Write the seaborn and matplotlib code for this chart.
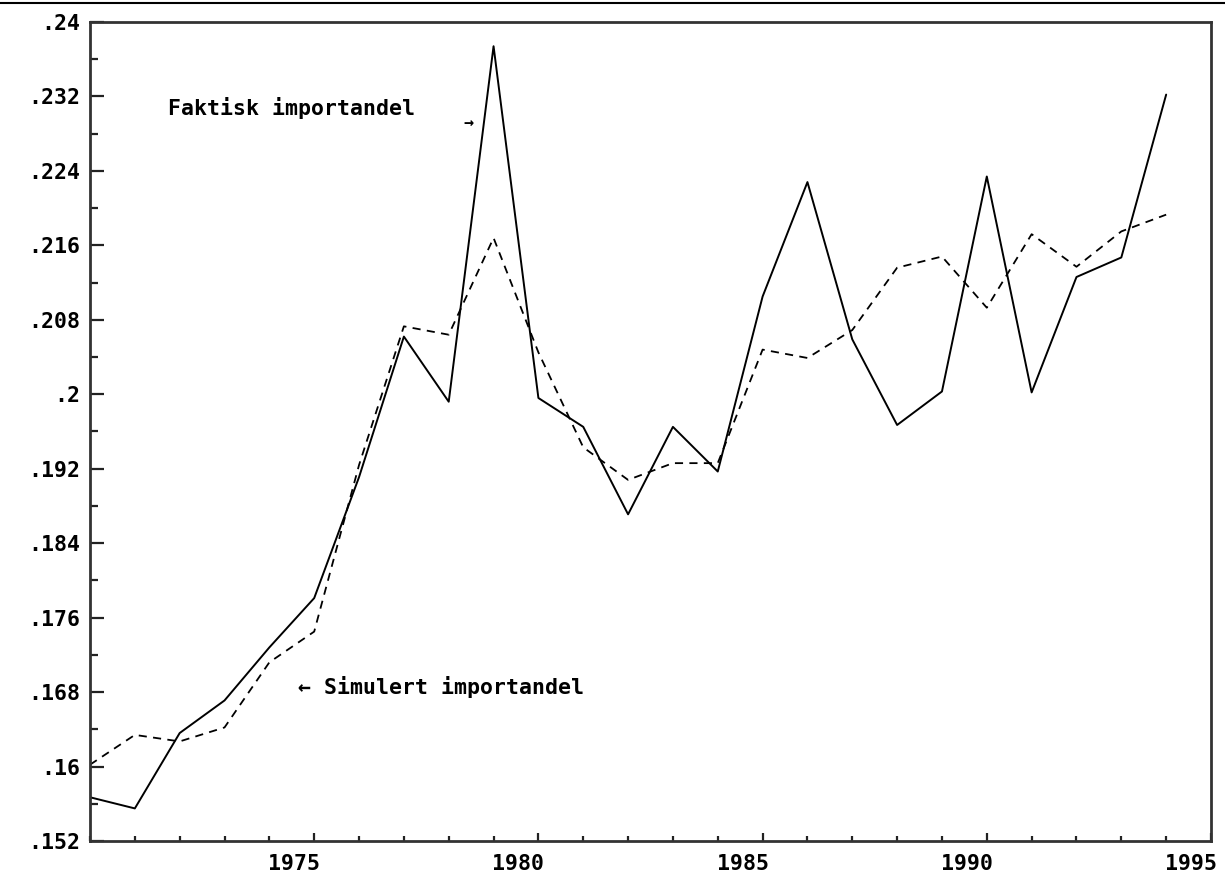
import matplotlib
matplotlib.use("Agg")
import matplotlib.pyplot as plt
import matplotlib.transforms as mtransforms
from matplotlib.lines import Line2D
from matplotlib.ticker import FixedLocator, MultipleLocator
import seaborn as sns
import pandas as pd

# ---- data ----
years = list(range(1970, 1995))
faktisk = [0.1567, 0.1555, 0.1636, 0.1671, 0.1728, 0.1781, 0.1911, 0.2062,
           0.1992, 0.2374, 0.1996, 0.1965, 0.1871, 0.1965, 0.1917, 0.2105,
           0.2228, 0.2059, 0.1967, 0.2003, 0.2234, 0.2002, 0.2126, 0.2147,
           0.2322]
simulert = [0.1602, 0.1634, 0.1627, 0.1642, 0.1712, 0.1745, 0.1924, 0.2073,
            0.2064, 0.2168, 0.2045, 0.1943, 0.1908, 0.1926, 0.1926, 0.2048,
            0.2039, 0.2069, 0.2136, 0.2148, 0.2093, 0.2172, 0.2137, 0.2175,
            0.2193]
ytick_values = [0.152, 0.160, 0.168, 0.176, 0.184, 0.192, 0.200, 0.208,
                0.216, 0.224, 0.232, 0.240]
ytick_labels = [".152", ".16", ".168", ".176", ".184", ".192", ".2", ".208",
                ".216", ".224", ".232", ".24"]
xtick_values = [1975, 1980, 1985, 1990, 1995]
xtick_labels = ["1975", "1980", "1985", "1990", "1995"]
label_faktisk = "Faktisk importandel"
label_simulert = "\u2190 Simulert importandel"
arrow_faktisk = "\u2192"

df = pd.DataFrame({"year": years, "faktisk": faktisk, "simulert": simulert})

sns.set_style("white")
plt.rcParams["font.family"] = ["DejaVu Sans Mono", "DejaVu Sans"]
plt.rcParams["font.weight"] = "bold"

FS = 15.5

fig = plt.figure(figsize=(12.25, 8.77), dpi=100)
ax = fig.add_axes([90 / 1225, 1 - 841 / 877, (1211 - 90) / 1225, (841 - 22) / 877])

sns.lineplot(data=df, x="year", y="faktisk", ax=ax, color="black",
             linewidth=1.4, linestyle="-")
sns.lineplot(data=df, x="year", y="simulert", ax=ax, color="black",
             linewidth=1.3, dashes=False)
ax.lines[-1].set_dashes((4.5, 3.5))

ax.set_xlim(1970, 1995)
ax.set_ylim(0.152, 0.240)
ax.set_xlabel("")
ax.set_ylabel("")

# ticks
ax.yaxis.set_major_locator(FixedLocator(ytick_values))
ax.set_yticklabels(ytick_labels)
ax.yaxis.set_minor_locator(MultipleLocator(0.004))
ax.xaxis.set_major_locator(FixedLocator(xtick_values))
ax.set_xticklabels(xtick_labels)
ax.xaxis.set_minor_locator(MultipleLocator(1))

ax.tick_params(axis="y", which="major", direction="in", length=10, width=1.6,
               pad=7, labelsize=FS, colors="#222222", labelcolor="black")
ax.tick_params(axis="y", which="minor", direction="in", length=6, width=1.6,
               colors="#222222")
ax.tick_params(axis="x", which="major", direction="in", length=6, width=1.6,
               pad=9, labelsize=FS, colors="#222222", labelcolor="black")
ax.tick_params(axis="x", which="minor", direction="in", length=3.5, width=1.6,
               colors="#222222")
ax.tick_params(left=True, bottom=True, which="both")

for lab in ax.get_xticklabels():
    lab.set_horizontalalignment("right")
    lab.set_fontweight("bold")
    lab.set_transform(lab.get_transform() +
                      mtransforms.ScaledTranslation(6 / 100, 0, fig.dpi_scale_trans))
for lab in ax.get_yticklabels():
    lab.set_fontweight("bold")

for side in ["left", "right", "top", "bottom"]:
    ax.spines[side].set_visible(True)
    ax.spines[side].set_color("#333333")
    ax.spines[side].set_linewidth(2.0)

# annotations
ax.text(1971.74, 0.2308, label_faktisk, fontsize=FS, fontweight="bold",
        ha="left", va="center", color="black")
ax.text(1978.45, 0.2290, arrow_faktisk, fontsize=12, fontweight="bold",
        ha="center", va="center", color="black")
ax.text(1974.63, 0.1686, label_simulert, fontsize=FS, fontweight="bold",
        ha="left", va="center", color="black")

# top border line of the image
fig.add_artist(Line2D([0, 1], [1 - 2.5 / 877, 1 - 2.5 / 877],
                      transform=fig.transFigure, color="black", linewidth=1.5))

fig.savefig("out.png", dpi=100, facecolor="white")
